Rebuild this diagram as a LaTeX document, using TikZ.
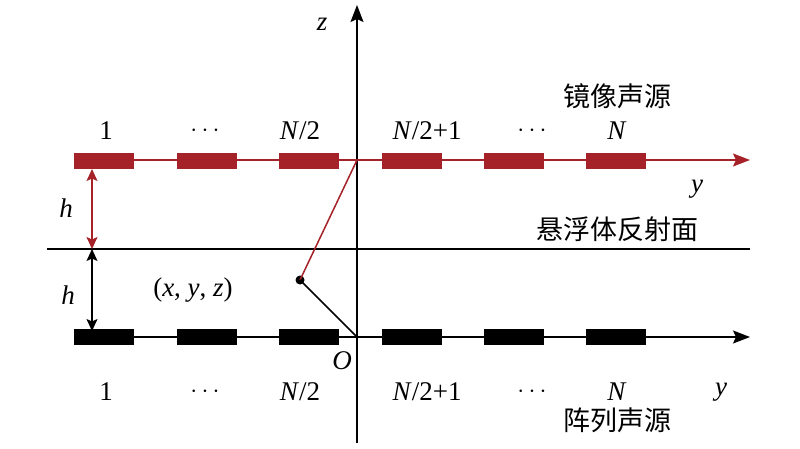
\documentclass[tikz,border=0pt]{standalone}
\usepackage{fontspec}
\setmainfont{Liberation Serif}
\newfontfamily\cjk{Noto Sans CJK SC}
\usetikzlibrary{arrows.meta}
\definecolor{srcred}{RGB}{165,35,40}
\begin{document}
\begin{tikzpicture}[x=1pt,y=-1pt,
  redsrc/.style={fill=srcred,draw=none,minimum width=60pt,minimum height=16pt,inner sep=0pt},
  blksrc/.style={fill=black,draw=none,minimum width=60pt,minimum height=16pt,inner sep=0pt},
  lbl/.style={font=\fontsize{27}{30}\selectfont,inner sep=0pt},
  cjklbl/.style={font=\cjk\fontsize{27}{30}\selectfont,inner sep=0pt},
  axis/.style={line width=1.5pt,-{Stealth[length=17pt,width=13pt,inset=3pt]}},
  harrow/.style={line width=1.5pt,{Stealth[length=12pt,width=11pt,inset=2.5pt]}-{Stealth[length=12pt,width=11pt,inset=2.5pt]}}
]
\useasboundingbox (0,0) rectangle (800,448);
% coordinates
\coordinate (zb) at (357,443);
\coordinate (zt) at (357,5);
\coordinate (rl) at (74,160);
\coordinate (rr) at (750,160);
\coordinate (bl) at (74,337);
\coordinate (br) at (750,337);
\coordinate (ml) at (47,249);
\coordinate (mr) at (750,249);
\coordinate (Or) at (357,160);
\coordinate (O) at (357,337);
% axes and lines
\draw[axis] (zb) -- (zt);
\draw[line width=1.5pt] (ml) -- (mr);
\draw[srcred,line width=1.5pt,-{Stealth[length=17pt,width=13pt,inset=3pt]}] (rl) -- (rr);
\draw[axis] (bl) -- (br);
% sources
\foreach \i/\x in {1/104,2/207,3/309,4/412,5/514,6/616}{
  \node[redsrc] (r\i) at (\x,161) {};
  \node[blksrc] (b\i) at (\x,337) {};
}
% h arrows
\coordinate (hr1) at (92,169);
\coordinate (hm) at (92,249);
\coordinate (hb1) at (92,331);
\draw[harrow,srcred] (hr1) -- (hm);
\draw[harrow] (hm) -- (hb1);
% field point
\node[circle,fill=black,inner sep=0pt,minimum size=9pt] (P) at (300,280) {};
\draw[srcred,line width=1.5pt] (Or) -- (P.center);
\draw[line width=1.5pt] (P.center) -- (O);
% labels
\node[lbl] (t1) at (106,131) {1};
\node[lbl] (t2) at (205,131) {$\cdots$};
\node[lbl] (t3) at (300,131) {\textit{N}/2};
\node[lbl] (t4) at (427,131) {\textit{N}/2+1};
\node[lbl] (t5) at (532,131) {$\cdots$};
\node[lbl] (t6) at (617,131) {\textit{N}};
\node[cjklbl] (img) at (617,96) {镜像声源};
\node[lbl] (yr) at (697,189) {\textit{y}};
\node[cjklbl] (refl) at (617,229) {悬浮体反射面};
\node[lbl] (h1) at (66,208) {\textit{h}};
\node[lbl] (h2) at (68,295) {\textit{h}};
\node[lbl] (pt) at (193,290) {(\textit{x}, \textit{y}, \textit{z})};
\node[lbl] (Ol) at (342,361) {\textit{O}};
\node[lbl] (zl) at (322,24) {\textit{z}};
\node[lbl] (u1) at (106,392) {1};
\node[lbl] (u2) at (205,392) {$\cdots$};
\node[lbl] (u3) at (300,392) {\textit{N}/2};
\node[lbl] (u4) at (427,392) {\textit{N}/2+1};
\node[lbl] (u5) at (532,392) {$\cdots$};
\node[lbl] (u6) at (617,392) {\textit{N}};
\node[lbl] (yb) at (721,392) {\textit{y}};
\node[cjklbl] (arr) at (617,420) {阵列声源};
\end{tikzpicture}
\end{document}
